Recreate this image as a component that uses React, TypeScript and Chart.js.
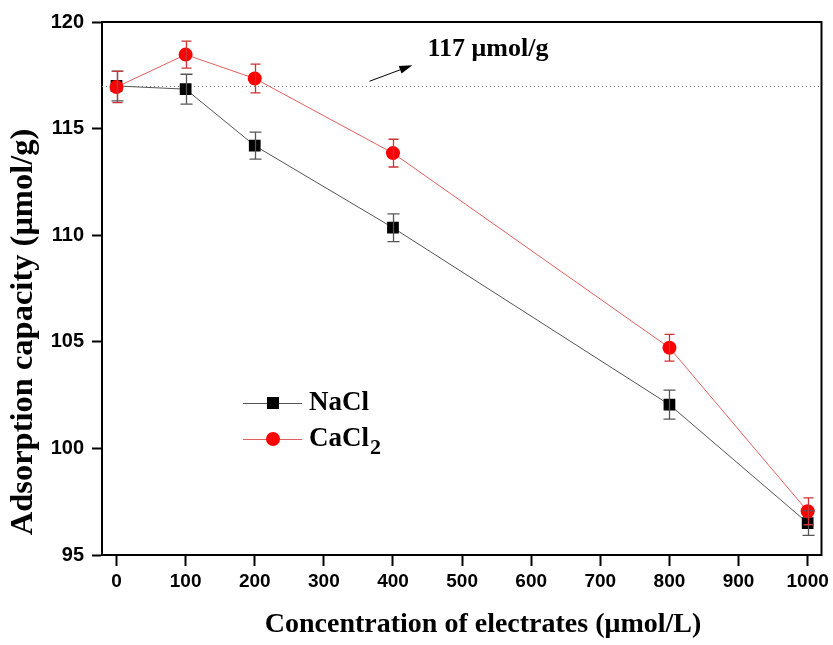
import React, { useEffect, useRef } from "react";
import { Chart, registerables } from "chart.js";

Chart.register(...registerables);

// ---- data ----
const concentrations = [0, 100, 200, 400, 800, 1000];
const naclValues = [117.0, 116.85, 114.2, 110.35, 102.05, 96.5];
const naclErrors = [0.7, 0.7, 0.63, 0.65, 0.68, 0.58];
const cacl2Values = [116.95, 118.47, 117.35, 113.85, 104.72, 97.05];
const cacl2Errors = [0.73, 0.63, 0.67, 0.65, 0.63, 0.63];
const xTicks = [0, 100, 200, 300, 400, 500, 600, 700, 800, 900, 1000];
const yTicks = [95, 100, 105, 110, 115, 120];
const referenceLevel = 117;
const annotationText = "117 μmol/g";
const arrowFrom = { x: 366, y: 117.22 };
const arrowTo = { x: 428, y: 117.97 };
const annotationAt = { x: 450, y: 118.72 };

const SERIF = '"Liberation Serif", "Times New Roman", serif';
const SANS = '"Liberation Sans", Arial, sans-serif';

const NACL_LINE = "#555555";
const NACL_ERR = "#555555";
const CACL_LINE = "#e06060";
const CACL_ERR = "#cc3333";

const decorPlugin = {
  id: "decor",
  beforeDatasetsDraw(chart: any) {
    const { ctx, chartArea, scales } = chart;
    const y = scales.y;
    const py = Math.round(y.getPixelForValue(referenceLevel)) + 0.5;
    ctx.save();
    ctx.strokeStyle = "#777";
    ctx.lineWidth = 1;
    ctx.setLineDash([1, 3]);
    ctx.beginPath();
    ctx.moveTo(chartArea.left, py);
    ctx.lineTo(chartArea.right, py);
    ctx.stroke();
    ctx.restore();
  },
  afterDatasetsDraw(chart: any) {
    const { ctx, scales } = chart;
    const { x, y } = scales;
    const drawBars = (vals: number[], errs: number[], color: string, cap: number) => {
      ctx.save();
      ctx.strokeStyle = color;
      ctx.lineWidth = 1.3;
      vals.forEach((v, i) => {
        const px = Math.round(x.getPixelForValue(concentrations[i])) + 0.5;
        const top = y.getPixelForValue(v + errs[i]);
        const bot = y.getPixelForValue(v - errs[i]);
        ctx.beginPath();
        ctx.moveTo(px, top);
        ctx.lineTo(px, bot);
        ctx.moveTo(px - cap / 2, top);
        ctx.lineTo(px + cap / 2, top);
        ctx.moveTo(px - cap / 2, bot);
        ctx.lineTo(px + cap / 2, bot);
        ctx.stroke();
      });
      ctx.restore();
    };
    drawBars(naclValues, naclErrors, NACL_ERR, 12);
    drawBars(cacl2Values, cacl2Errors, CACL_ERR, 10);
  },
  afterDraw(chart: any) {
    const { ctx, chartArea, scales } = chart;
    const { x, y } = scales;
    ctx.save();
    // frame top & right
    ctx.strokeStyle = "#000";
    ctx.lineWidth = 2;
    ctx.beginPath();
    ctx.moveTo(chartArea.left - 1, chartArea.top);
    ctx.lineTo(chartArea.right, chartArea.top);
    ctx.lineTo(chartArea.right, chartArea.bottom + 1);
    ctx.stroke();

    // axis titles
    ctx.fillStyle = "#000";
    ctx.font = `bold 28px ${SERIF}`;
    ctx.textAlign = "center";
    ctx.textBaseline = "middle";
    ctx.fillText("Concentration of electrates (μmol/L)", 483, 625);
    ctx.save();
    ctx.translate(24, 332);
    ctx.rotate(-Math.PI / 2);
    ctx.font = `bold 32.5px ${SERIF}`;
    ctx.fillText("Adsorption capacity (μmol/g)", 0, 0);
    ctx.restore();

    // annotation
    const ax0 = x.getPixelForValue(arrowFrom.x);
    const ay0 = y.getPixelForValue(arrowFrom.y);
    const ax1 = x.getPixelForValue(arrowTo.x);
    const ay1 = y.getPixelForValue(arrowTo.y);
    const ang = Math.atan2(ay1 - ay0, ax1 - ax0);
    ctx.strokeStyle = "#000";
    ctx.lineWidth = 1;
    ctx.beginPath();
    ctx.moveTo(ax0, ay0);
    ctx.lineTo(ax1 - 8 * Math.cos(ang), ay1 - 8 * Math.sin(ang));
    ctx.stroke();
    ctx.beginPath();
    ctx.moveTo(ax1, ay1);
    ctx.lineTo(ax1 - 13 * Math.cos(ang) + 4 * Math.sin(ang), ay1 - 13 * Math.sin(ang) - 4 * Math.cos(ang));
    ctx.lineTo(ax1 - 13 * Math.cos(ang) - 4 * Math.sin(ang), ay1 - 13 * Math.sin(ang) + 4 * Math.cos(ang));
    ctx.closePath();
    ctx.fillStyle = "#000";
    ctx.fill();
    ctx.font = `bold 26px ${SERIF}`;
    ctx.textAlign = "left";
    ctx.textBaseline = "middle";
    ctx.fillText(annotationText, x.getPixelForValue(annotationAt.x), y.getPixelForValue(annotationAt.y));

    // legend
    const lx0 = 243, lx1 = 302, mx = 273, tx = 309;
    const rows = [
      { yy: 403, line: NACL_LINE, kind: "rect" },
      { yy: 439, line: CACL_LINE, kind: "circle" },
    ];
    rows.forEach((r) => {
      ctx.strokeStyle = r.line;
      ctx.lineWidth = 1;
      ctx.beginPath();
      ctx.moveTo(lx0, r.yy + 0.5);
      ctx.lineTo(lx1, r.yy + 0.5);
      ctx.stroke();
      if (r.kind === "rect") {
        ctx.fillStyle = "#000";
        ctx.fillRect(mx - 6, r.yy - 6, 12, 12);
      } else {
        ctx.fillStyle = "#ff0000";
        ctx.beginPath();
        ctx.arc(mx, r.yy, 7, 0, Math.PI * 2);
        ctx.fill();
      }
    });
    ctx.fillStyle = "#000";
    ctx.font = `bold 27px ${SERIF}`;
    ctx.textBaseline = "middle";
    ctx.fillText("NaCl", tx, 403);
    ctx.fillText("CaCl", tx, 439);
    const w = ctx.measureText("CaCl").width;
    ctx.font = `bold 22px ${SERIF}`;
    ctx.fillText("2", tx + w + 1, 448);
    ctx.restore();
  },
};

export default function App() {
  const ref = useRef<HTMLCanvasElement | null>(null);
  useEffect(() => {
    if (!ref.current) return;
    const chart = new Chart(ref.current, {
      type: "line",
      data: {
        datasets: [
          {
            label: "NaCl",
            data: concentrations.map((c, i) => ({ x: c, y: naclValues[i] })),
            borderColor: NACL_LINE,
            borderWidth: 1,
            backgroundColor: "#000",
            pointStyle: "rect",
            pointRadius: 8.3,
            pointBorderWidth: 0,
            pointBackgroundColor: "#000",
            pointBorderColor: "#000",
            tension: 0,
            order: 2,
          },
          {
            label: "CaCl2",
            data: concentrations.map((c, i) => ({ x: c, y: cacl2Values[i] })),
            borderColor: CACL_LINE,
            borderWidth: 1,
            backgroundColor: "#ff0000",
            pointStyle: "circle",
            pointRadius: 7,
            pointBorderWidth: 0,
            pointBackgroundColor: "#ff0000",
            pointBorderColor: "#ff0000",
            tension: 0,
            order: 1,
          },
        ],
      },
      options: {
        animation: false,
        responsive: false,
        devicePixelRatio: 1,
        layout: { padding: { top: 22, right: 10, left: 0, bottom: 0 } },
        plugins: { legend: { display: false }, tooltip: { enabled: false } },
        scales: {
          x: {
            type: "linear",
            min: -21,
            max: 1020,
            afterBuildTicks: (s: any) => {
              s.ticks = xTicks.map((v) => ({ value: v }));
            },
            afterFit: (s: any) => {
              s.height = 90;
            },
            grid: {
              display: true,
              drawOnChartArea: false,
              drawTicks: true,
              tickLength: 11,
              tickWidth: 2,
              tickColor: "#000",
            },
            border: { display: true, color: "#000", width: 2 },
            ticks: {
              color: "#000",
              font: { family: SANS, weight: "bold", size: 19 },
              padding: 4,
              maxRotation: 0,
              autoSkip: false,
              callback: (v: any) => String(v),
            },
          },
          y: {
            type: "linear",
            min: 95,
            max: 120,
            afterBuildTicks: (s: any) => {
              s.ticks = yTicks.map((v) => ({ value: v }));
            },
            afterFit: (s: any) => {
              s.width = 102;
            },
            grid: {
              display: true,
              drawOnChartArea: false,
              drawTicks: true,
              tickLength: 10,
              tickWidth: 2,
              tickColor: "#000",
            },
            border: { display: true, color: "#000", width: 2 },
            ticks: {
              color: "#000",
              font: { family: SANS, weight: "bold", size: 20 },
              padding: 8,
              autoSkip: false,
              callback: (v: any) => String(v),
            },
          },
        },
      },
      plugins: [decorPlugin],
    });
    return () => chart.destroy();
  }, []);
  return (
    <div style={{ position: "fixed", left: 0, top: 0, width: 833, height: 645, background: "#fff" }}>
      <canvas ref={ref} width={833} height={645} style={{ display: "block" }} />
    </div>
  );
}
